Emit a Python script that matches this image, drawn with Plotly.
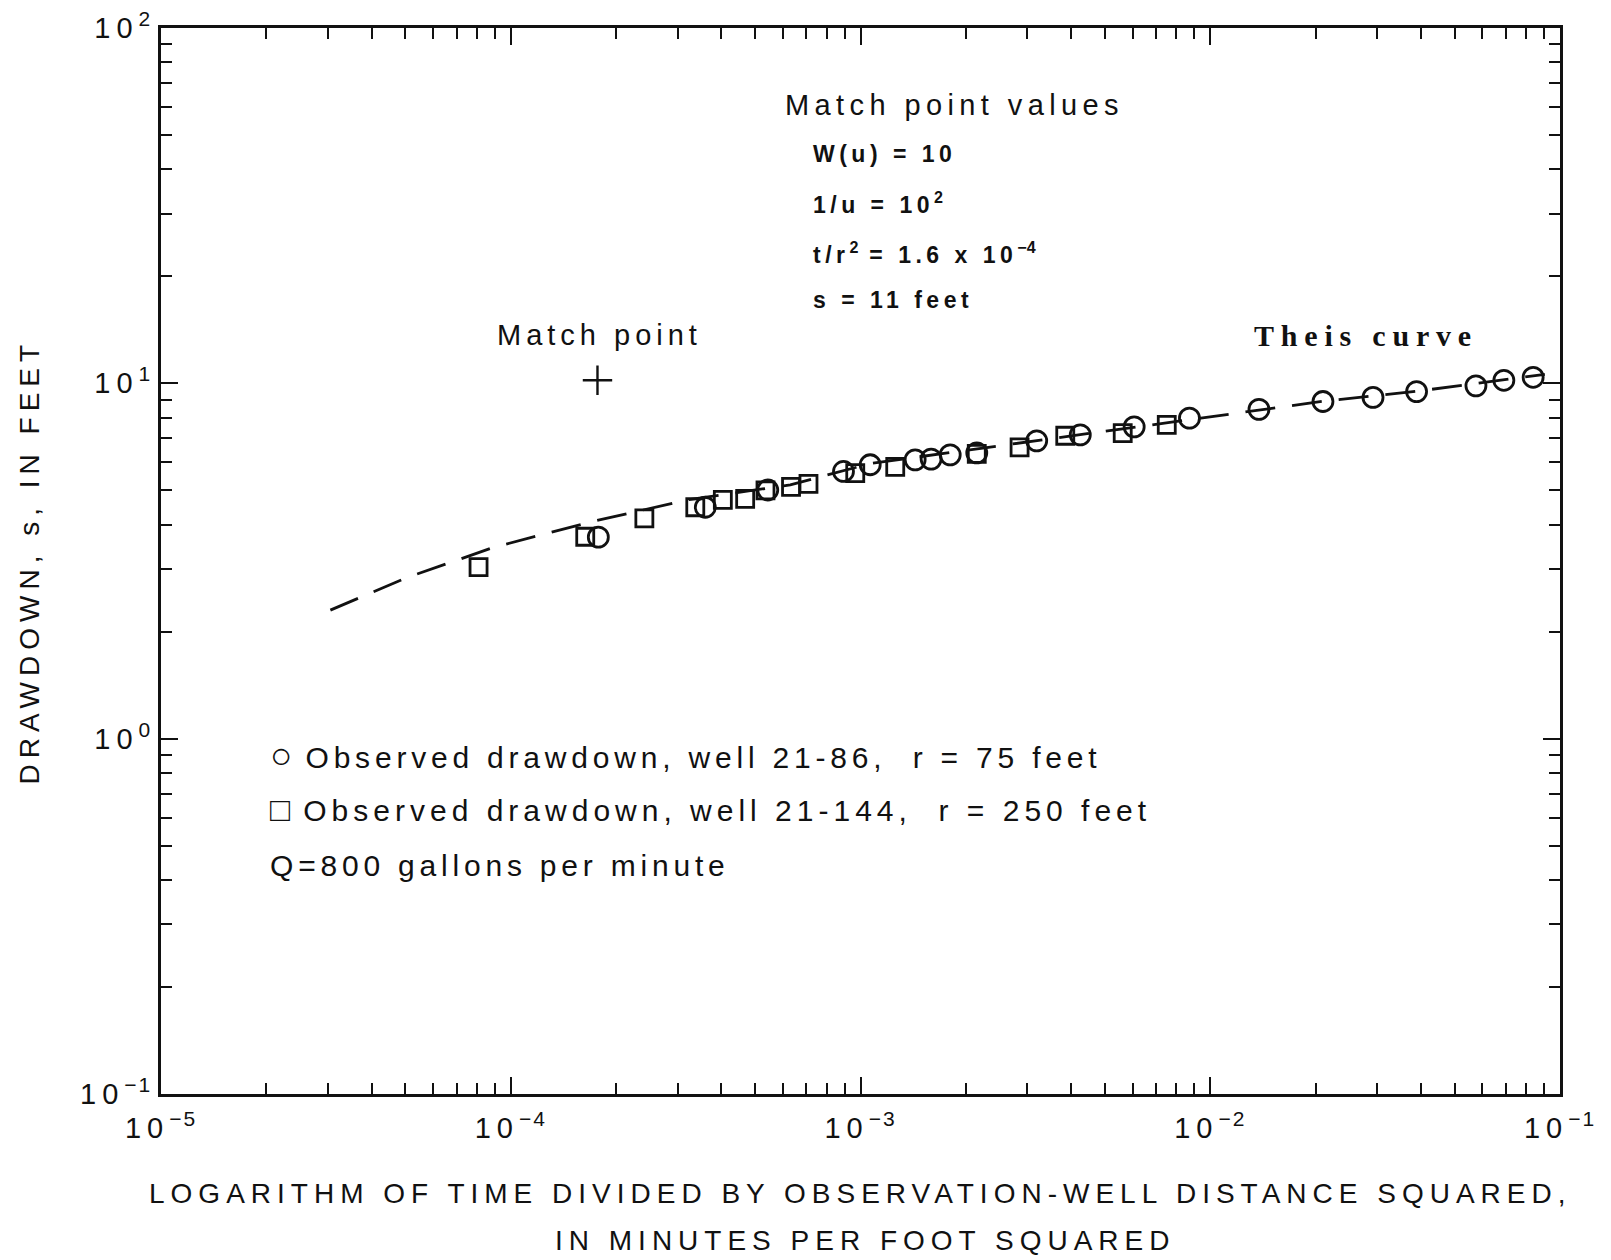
import plotly.graph_objects as go

# ---- data ----
well_21_86_x = [1.78e-4, 3.60e-4, 5.43e-4, 8.94e-4, 1.066e-3, 1.433e-3, 1.592e-3, 1.805e-3,
                2.15e-3, 3.19e-3, 4.25e-3, 6.06e-3, 8.72e-3, 1.378e-2, 2.10e-2, 2.92e-2,
                3.89e-2, 5.75e-2, 6.91e-2, 8.38e-2]
well_21_86_s = [3.69, 4.48, 5.01, 5.65, 5.90, 6.09, 6.12, 6.29,
                6.37, 6.89, 7.16, 7.54, 7.98, 8.45, 8.89, 9.13,
                9.48, 9.84, 10.2, 10.4]

well_21_144_x = [8.09e-5, 1.633e-4, 2.41e-4, 3.37e-4, 4.04e-4, 4.68e-4, 5.35e-4, 6.33e-4,
                 7.10e-4, 9.66e-4, 1.257e-3, 2.15e-3, 2.85e-3, 3.85e-3, 5.62e-3, 7.51e-3]
well_21_144_s = [3.04, 3.70, 4.17, 4.48, 4.70, 4.73, 5.00, 5.11,
                 5.21, 5.59, 5.82, 6.33, 6.60, 7.12, 7.24, 7.64]

theis_x = [3.05e-5, 5.0e-5, 8.9e-5, 1.67e-4, 3.2e-4, 6.3e-4, 1.07e-3, 2.7e-3,
           5.2e-3, 1.19e-2, 2.1e-2, 3.9e-2, 9.05e-2]
theis_s = [2.30, 2.83, 3.45, 4.06, 4.70, 5.18, 5.95, 6.74,
           7.38, 8.27, 8.90, 9.50, 10.6]

match_x = [1.77e-4]
match_s = [10.2]

x_exponents = [-5, -4, -3, -2, -1]
y_exponents = [-1, 0, 1, 2]

FONT = "Liberation Sans"
BLACK = "#111111"


def spaced(text, ls, size):
    return f"<span style='letter-spacing:{ls}px;font-size:{size}px'>{text}</span>"


def pow_label(e):
    exp = str(e).replace("-", "\u2212")
    return spaced("10", 6, 29) + "<sup>" + spaced(exp, 2, 21) + "</sup>"


x_tick_vals = [10.0 ** e for e in x_exponents]
y_tick_vals = [10.0 ** e for e in y_exponents]
x_minor = [m * 10.0 ** e for e in x_exponents[:-1] for m in range(2, 10)]
y_minor = [m * 10.0 ** e for e in y_exponents[:-1] for m in range(2, 10)]

fig = go.Figure()

fig.add_trace(go.Scatter(
    x=theis_x, y=theis_s, mode="lines",
    line=dict(color=BLACK, width=2.8, dash="30px,17px"),
    hoverinfo="skip"))

fig.add_trace(go.Scatter(
    x=well_21_144_x, y=well_21_144_s, mode="markers",
    marker=dict(symbol="square-open", size=17, color=BLACK, line=dict(width=2.8, color=BLACK))))

fig.add_trace(go.Scatter(
    x=well_21_86_x, y=well_21_86_s, mode="markers",
    marker=dict(symbol="circle-open", size=20, color=BLACK, line=dict(width=2.8, color=BLACK))))

fig.add_trace(go.Scatter(
    x=match_x, y=match_s, mode="markers",
    marker=dict(symbol="cross-thin-open", size=21, color=BLACK, line=dict(width=2.4, color=BLACK))))

axis_common = dict(
    type="log", showline=True, linewidth=2.8, linecolor=BLACK, mirror="ticks",
    ticks="inside", ticklen=17, tickwidth=2.2, tickcolor=BLACK,
    showgrid=False, zeroline=False, ticklabeloverflow="allow", automargin=False,
    tickfont=dict(family=FONT, size=29, color=BLACK),
)

fig.update_xaxes(
    range=[-5, -1], tickmode="array", tickvals=x_tick_vals,
    ticktext=[pow_label(e) for e in x_exponents],
    ticklabelstandoff=6,
    minor=dict(tickmode="array", tickvals=x_minor, ticks="inside", ticklen=11,
               tickwidth=2.2, tickcolor=BLACK, showgrid=False),
    **axis_common)

fig.update_yaxes(
    range=[-1, 2], tickmode="array", tickvals=y_tick_vals,
    ticktext=[pow_label(e) for e in y_exponents],
    ticklabelstandoff=0,
    minor=dict(tickmode="array", tickvals=y_minor, ticks="inside", ticklen=11,
               tickwidth=2.2, tickcolor=BLACK, showgrid=False),
    **axis_common)


def ann(text, x, y, size, xanchor="left", family=FONT, angle=0):
    fig.add_annotation(text=text, xref="paper", yref="paper", x=x, y=y,
                       xanchor=xanchor, yanchor="middle", showarrow=False,
                       textangle=angle,
                       font=dict(family=family, size=size, color=BLACK))


# match point values block
ann(spaced("Match point values", 5.4, 29), 0.5675, 0.928, 29, xanchor="center")
ann("<b>" + spaced("W(u) = 10", 4.5, 23) + "</b>", 0.4645, 0.882, 23)
ann("<b>" + spaced("1/u = 10", 4.5, 23) + "<sup>2</sup></b>", 0.4645, 0.836, 23)
ann("<b>" + spaced("t/r", 4.5, 23) + "<sup>2</sup>" + spaced(" = 1.6 x 10", 4.5, 23)
    + "<sup>\u22124</sup></b>", 0.4645, 0.789, 23)
ann("<b>" + spaced("s = 11 feet", 4.5, 23) + "</b>", 0.4645, 0.745, 23)

ann(spaced("Match point", 5, 29), 0.3135, 0.712, 29, xanchor="center")
ann("<b>" + spaced("Theis curve", 6.8, 30) + "</b>", 0.8615, 0.712, 30, xanchor="center",
    family="Liberation Serif")

# legend block
ann("<span style='font-size:37px'>\u25CB</span>" + spaced(" Observed drawdown, well 21-86,  r = 75 feet", 4.8, 30),
    0.0765, 0.3172, 30)
ann("<span style='font-size:33px'>\u25A1</span>" + spaced(" Observed drawdown, well 21-144,  r = 250 feet", 5.0, 30),
    0.0765, 0.2665, 30)
ann(spaced("Q=800 gallons per minute", 4.8, 30), 0.0765, 0.214, 30)

# axis titles
ann(spaced("LOGARITHM OF TIME DIVIDED BY OBSERVATION-WELL DISTANCE SQUARED,", 6, 28),
    0.4995, -0.0935, 28, xanchor="center")
ann(spaced("IN MINUTES PER FOOT SQUARED", 6, 28), 0.503, -0.137, 28, xanchor="center")
ann(spaced("DRAWDOWN, s, IN FEET", 6, 28), -0.094, 0.5, 28, xanchor="center", angle=-90)

# the page adds an 8px body margin; size the figure so the plot area lands
# where the reference has it
fig.update_layout(
    width=1603, height=1252,
    margin=dict(l=152.5, r=51, t=20.3, b=166, autoexpand=False),
    paper_bgcolor="white", plot_bgcolor="white",
    showlegend=False,
)

fig.write_html("out.html")
